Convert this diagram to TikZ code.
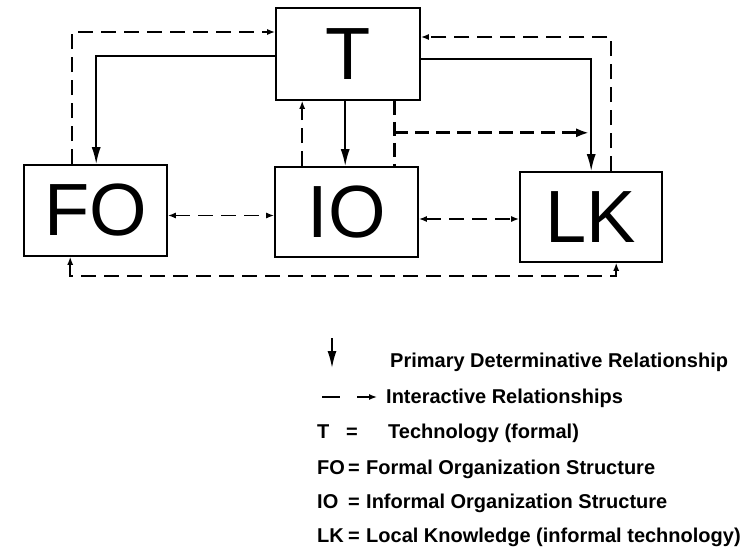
\documentclass[tikz,border=0pt]{standalone}
\usepackage{fontspec}
\setmainfont{Liberation Sans}
\usetikzlibrary{arrows.meta}
\begin{document}
\begin{tikzpicture}[x=1pt,y=-1pt,
  box/.style={draw,line width=1.6pt,inner sep=0pt,font=\fontsize{74}{76}\selectfont},
  sol/.style={line width=1.8pt},
  dsh/.style={line width=1.5pt,dash pattern=on 15pt off 8pt},
  tdsh/.style={line width=3.2pt,dash pattern=on 14pt off 7pt},
  stip/.style={-{Latex[length=17pt,width=9pt]}},
  dtip/.style={-{Latex[length=8pt,width=6pt]}},
  ddtip/.style={{Latex[length=8pt,width=6pt]}-{Latex[length=8pt,width=6pt]}},
  ttip/.style={-{Latex[length=13pt,width=9pt]}},
  lg/.style={inner sep=0pt,anchor=base west,font=\fontsize{20}{22}\selectfont\bfseries}]
\useasboundingbox (0,0) rectangle (750,554);
% boxes
\node[box,minimum width=144pt,minimum height=92pt] (T) at (348,54) {\raisebox{-4pt}{T}};
\node[box,minimum width=143pt,minimum height=91pt] (FO) at (95.5,210.5) {FO};
\node[box,minimum width=143pt,minimum height=90pt] (IO) at (346.5,212) {IO};
\node[box,minimum width=142pt,minimum height=90pt] (LK) at (591,217) {LK};
% helper coordinates
\coordinate (fo1) at ([xshift=49pt]FO.north west);
\coordinate (fo2) at ([xshift=73pt]FO.north west);
\coordinate (t1) at ([yshift=22pt]T.west);
\coordinate (t2) at ([yshift=-2pt]T.west);
\coordinate (io1) at ([xshift=28pt]IO.north west);
\coordinate (t3) at ([xshift=70pt]T.south west);
\coordinate (t4) at ([xshift=119pt]T.south west);
\coordinate (br) at ([yshift=-32pt]t4);
\coordinate (t5) at ([yshift=-5pt]T.east);
\coordinate (lk1) at ([xshift=72pt]LK.north west);
\coordinate (br2) at (br -| lk1);
\coordinate (lk2) at ([xshift=92pt]LK.north west);
\coordinate (t6) at ([yshift=17pt]T.east);
\coordinate (fo3) at ([yshift=-5pt]FO.east);
\coordinate (io2) at ([yshift=-7pt]IO.east);
\coordinate (fo4) at ([xshift=47pt]FO.south west);
\coordinate (lk3) at ([xshift=97pt]LK.south west);
\coordinate (bl) at ([yshift=-19pt]fo4);
% connectors
\draw[dsh,dtip] (fo1) |- (t1);
\draw[sol,stip] (t2) -| (fo2);
\draw[dsh,dtip] (io1) -- (io1 |- T.south);
\draw[sol,stip] (t3) -- (t3 |- IO.north);
\draw[tdsh] (t4) -- (t4 |- IO.north);
\draw[sol,stip] (t5) -| (lk1);
\draw[tdsh,ttip] (br) -- ([xshift=-2pt]br2);
\draw[dsh,dtip] (lk2) |- (t6);
\draw[dsh,ddtip] (fo3) -- (fo3 -| IO.west);
\draw[dsh,ddtip] (io2) -- (io2 -| LK.west);
\draw[dsh,ddtip] (fo4) -- (bl) -| (lk3);
% legend
\coordinate (la1) at (332,338);
\coordinate (la2) at (332,368);
\draw[sol,stip] (la1) -- (la2);
\coordinate (lb1) at (322,397);
\coordinate (lb2) at (340,397);
\coordinate (lb3) at (357,397);
\coordinate (lb4) at (377,397);
\draw[line width=1.4pt] (lb1) -- (lb2);
\draw[line width=1.4pt,dtip] (lb3) -- (lb4);
\node[lg] (l1) at (390,367) {Primary Determinative Relationship};
\node[lg] (l2) at (386,403) {Interactive Relationships};
\node[lg] (l3a) at (317,438) {T};
\node[lg] (l3b) at (346,438) {=};
\node[lg] (l3c) at (388,438) {Technology (formal)};
\node[lg] (l4a) at (317,474) {FO};
\node[lg] (l4b) at (348,474) {=};
\node[lg] (l4c) at (366,474) {Formal Organization Structure};
\node[lg] (l5a) at (317,508) {IO};
\node[lg] (l5b) at (348,508) {=};
\node[lg] (l5c) at (366,508) {Informal Organization Structure};
\node[lg] (l6a) at (317,542) {LK};
\node[lg] (l6b) at (348,542) {=};
\node[lg] (l6c) at (366,542) {Local Knowledge (informal technology)};
\end{tikzpicture}
\end{document}
